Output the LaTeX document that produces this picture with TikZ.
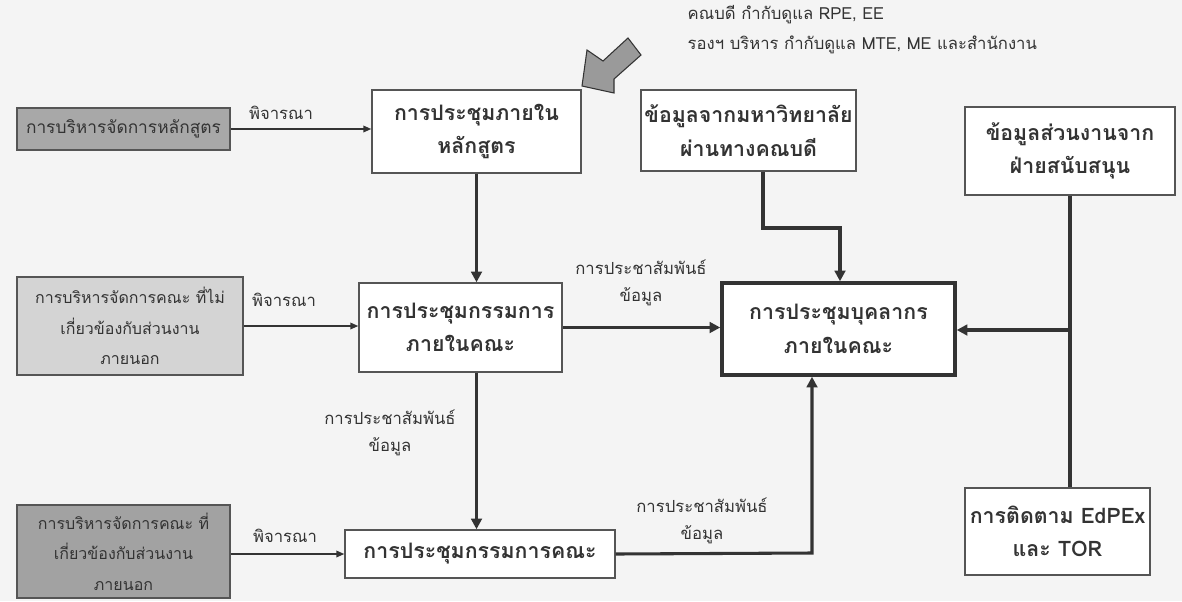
\documentclass[tikz,border=0pt]{standalone}
\usepackage{fontspec}
\newfontfamily\thai[Script=Thai]{Loma}
\usetikzlibrary{arrows.meta}
\definecolor{bg}{HTML}{F4F4F4}
\definecolor{ink}{HTML}{333333}
\definecolor{edge}{HTML}{555555}
\definecolor{greyA}{HTML}{A8A8A8}
\definecolor{greyE}{HTML}{D4D4D4}
\definecolor{greyH}{HTML}{A2A2A2}
\definecolor{bigarrow}{HTML}{9A9A9A}
\tikzset{
  box/.style={draw=edge, line width=1.1pt, fill=white, align=center, inner sep=2pt,
              font=\thai\bfseries\fontsize{16}{25}\selectfont, text=ink},
  sidebox/.style={draw=edge, line width=1.1pt, align=center, inner sep=2pt,
              font=\thai\fontsize{12}{23}\selectfont, text=ink},
  thinline/.style={draw=ink, line width=1.1pt, -{Triangle[length=6pt,width=5pt]}},
  thickline/.style={draw=ink, line width=2.3pt, -{Triangle[length=8pt,width=8pt]}},
  plainthick/.style={draw=ink, line width=2.3pt},
  lbl/.style={font=\thai\fontsize{12.5}{20}\selectfont, text=ink, align=center},
}
\begin{document}
\begin{tikzpicture}[x=0.75pt,y=-0.75pt]
\useasboundingbox[fill=bg] (0,0) rectangle (1182,601);

% boxes
\node[sidebox, fill=greyA, minimum width={213*0.75pt}, minimum height={42*0.75pt}, font=\thai\fontsize{13}{23}\selectfont] (A) at (123.5,129) {การบริหารจัดการหลักสูตร};
\node[box, minimum width={209*0.75pt}, minimum height={83*0.75pt}] (B) at (476.5,131.5) {การประชุมภายใน\\หลักสูตร};
\node[box, minimum width={215*0.75pt}, minimum height={81*0.75pt}] (C) at (748.5,130.5) {ข้อมูลจากมหาวิทยาลัย\\ผ่านทางคณบดี};
\node[box, minimum width={210*0.75pt}, minimum height={88*0.75pt}] (D) at (1070,151) {ข้อมูลส่วนงานจาก\\ฝ่ายสนับสนุน};
\node[sidebox, fill=greyE, minimum width={226*0.75pt}, minimum height={98*0.75pt}] (E) at (130,326) {การบริหารจัดการคณะ ที่ไม่\\เกี่ยวข้องกับส่วนงาน\\ภายนอก};
\node[box, minimum width={203*0.75pt}, minimum height={89*0.75pt}] (F) at (460.5,327.5) {การประชุมกรรมการ\\ภายในคณะ};
\node[box, draw=ink, line width=2.6pt, minimum width={233*0.75pt}, minimum height={92*0.75pt}] (G) at (838.5,329) {การประชุมบุคลากร\\ภายในคณะ};
\node[sidebox, fill=greyH, minimum width={213*0.75pt}, minimum height={93*0.75pt}] (H) at (123.5,551.5) {การบริหารจัดการคณะ ที่\\เกี่ยวข้องกับส่วนงาน\\ภายนอก};
\node[box, minimum width={270*0.75pt}, minimum height={48*0.75pt}] (I) at (480,554) {การประชุมกรรมการคณะ};
\node[box, minimum width={185*0.75pt}, minimum height={87*0.75pt}] (J) at (1057.5,531.5) {การติดตาม EdPEx\\และ TOR};

% big grey arrow
\filldraw[fill=bigarrow, draw=ink, line width=0.8pt]
  (582,86) -- (587,50) -- (603,61) -- (628,38) -- (641,55) -- (614,79) -- (614,93) -- cycle;

% top note
\node[lbl, anchor=west] (note1) at (683,15) {คณบดี กำกับดูแล RPE, EE};
\node[lbl, anchor=west] (note2) at (683,45) {รองฯ บริหาร กำกับดูแล MTE, ME และสำนักงาน};

% coordinates
\coordinate (cg1) at (763,228);
\coordinate (cg2) at (840,228);
\coordinate (dj) at (1070,330);
\coordinate (ig1) at (812,553);

% connectors
\draw[thinline] (A.east) -- (B.west |- A.east);
\draw[thickline] (B.south) -- (B.south |- F.north);
\draw[thinline] (E.east) -- (F.west |- E.east);
\draw[thickline] (F.east) -- (G.west |- F.east);
\draw[thickline] (C.south -| cg1) -- (cg1) -- (cg2) -- (cg2 |- G.north);
\draw[plainthick] (D.south) -- (D.south |- J.north);
\draw[thickline] (dj) -- (G.east |- dj);
\draw[thickline] (B.south |- F.south) -- (B.south |- I.north);
\draw[thinline] (H.east |- I.west) -- (I.west);
\draw[thickline] (I.east) -- (ig1) -- (ig1 |- G.south);

% labels
\node[lbl] (l1) at (281,113) {พิจารณา};
\node[lbl] (l2) at (284,300) {พิจารณา};
\node[lbl] (l3) at (285,536) {พิจารณา};
\node[lbl] (l4) at (641,283) {การประชาสัมพันธ์\\ข้อมูล};
\node[lbl] (l5) at (390,433) {การประชาสัมพันธ์\\ข้อมูล};
\node[lbl] (l6) at (702,521) {การประชาสัมพันธ์\\ข้อมูล};
\end{tikzpicture}
\end{document}
